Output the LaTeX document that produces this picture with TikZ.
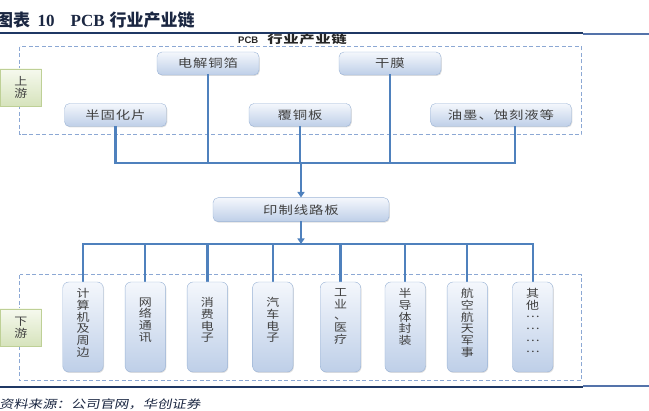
\documentclass[tikz,border=0pt]{standalone}
\usepackage{fontspec}
\setmainfont{Liberation Serif}
\newfontfamily\titleFont{Noto Sans CJK SC}
\newfontfamily\boxFont[FakeStretch=1.25, LetterSpace=8]{Noto Sans CJK SC}
\newfontfamily\stackFont[FakeStretch=1.18]{Noto Sans CJK SC}
\newfontfamily\headFont[FakeStretch=1.4, LetterSpace=6]{Noto Sans CJK SC}
\newfontfamily\headLatinFont{Liberation Sans}
\newfontfamily\sourceFont[FakeStretch=1.25, FakeSlant=0.2]{Noto Sans CJK SC}
\usepackage{tikz}
\usetikzlibrary{positioning, arrows.meta, shadows}
\definecolor{chainColor}{RGB}{79,129,189}
\definecolor{frameColor}{RGB}{140,168,212}
\definecolor{boxTop}{RGB}{244,247,252}
\definecolor{boxBottom}{RGB}{190,207,232}
\definecolor{boxBorder}{RGB}{155,180,214}
\definecolor{sideTop}{RGB}{246,249,238}
\definecolor{sideBottom}{RGB}{214,227,188}
\definecolor{sideBorder}{RGB}{190,208,150}
\definecolor{titleColor}{RGB}{27,39,66}
\definecolor{ruleDark}{RGB}{31,56,100}
\definecolor{ruleLight}{RGB}{84,115,170}
\definecolor{labelColor}{RGB}{64,64,64}
\tikzstyle{chart} = [x = 1pt, y = -1pt]
\tikzstyle{chainBox} = [draw = boxBorder, top color = boxTop, bottom color = boxBottom, rounded corners = 5pt, minimum height = 23pt, inner sep = 0pt, text = labelColor, font = \boxFont\fontsize{11.5}{13}\selectfont, drop shadow = {opacity = .25, shadow xshift = .8pt, shadow yshift = -1pt}]
\tikzstyle{marketBox} = [chainBox, minimum width = 40.5pt, minimum height = 90pt, rounded corners = 6pt]
\tikzstyle{stackText} = [align = center, inner sep = 0pt, text = labelColor, font = \stackFont\fontsize{11}{11.7}\selectfont]
\tikzstyle{sideBox} = [draw = sideBorder, top color = sideTop, bottom color = sideBottom, minimum width = 41.5pt, minimum height = 37pt, inner sep = 0pt, align = center, text = labelColor, font = \stackFont\fontsize{11}{12.5}\selectfont, drop shadow = {opacity = .2, shadow xshift = .8pt, shadow yshift = -1pt}]
\tikzstyle{frameLine} = [draw = frameColor, line width = 1pt, dash pattern = on 4pt off 2.5pt]
\tikzstyle{chainLine} = [draw = chainColor, line width = 2.2pt, line cap = rect]
\tikzstyle{chainArrow} = [chainLine, -{Triangle[length = 5.5pt, width = 7pt]}]
\newcommand{\supplyBox}[5]{\node [chainBox, minimum width = #4pt] (#1) at (#2, #3) {#5};}
\newcommand{\midDots}{\raisebox{3.5pt}{…}}

\begin{document}
\begin{tikzpicture}[chart]
  \useasboundingbox (0, 0) rectangle (649, 411);
  \node [anchor = west, inner sep = 0pt, text = titleColor, font = \fontsize{17}{19}\selectfont] (title) at (-4, 20) {{\titleFont\bfseries 图表}\hspace{7.5pt}{\bfseries 10}\hspace{16pt}{\bfseries PCB}\hspace{5pt}{\titleFont\bfseries 行业产业链}};
  \draw [ruleDark, line width = 1.2pt] (0, 33) -- (583, 33);
  \draw [ruleLight, line width = 2pt] (583, 34) -- (649, 34);

  \draw [frameLine] (19.5, 47) rectangle (581.5, 135);
  \draw [frameLine] (19.5, 275) rectangle (581.5, 381);
  \node [anchor = west, inner sep = 0pt, text = black!85] (heading) at (238, 39.3) {{\headLatinFont\bfseries\fontsize{9.5}{12}\selectfont PCB}\hspace{9pt}{\headFont\bfseries\fontsize{11}{13}\selectfont 行业产业链}};
  \coordinate (upBar) at (0, 163);
  \coordinate (downBar) at (0, 244);
  \coordinate (inkFoot) at (515, 163);

  \supplyBox{foil}{208}{63.5}{102}{电解铜箔}
  \supplyBox{film}{390}{63.5}{102}{干膜}
  \supplyBox{prepreg}{115.5}{115}{102}{半固化片}
  \supplyBox{ccl}{300}{115}{102}{覆铜板}
  \supplyBox{ink}{501}{115}{141}{油墨、蚀刻液等}
  \node [chainBox, minimum width = 176pt, minimum height = 24pt] (pcb) at (301, 209.7) {印制线路板};

  \foreach \name in {prepreg, foil, ccl, film} {
    \draw [chainLine] (\name.south) -- (\name.south |- upBar);
  }
  \draw [chainLine] (inkFoot |- ink.south) -- (inkFoot);
  \draw [chainLine] (prepreg.south |- upBar) -- (inkFoot);
  \draw [chainArrow] (pcb.north |- upBar) -- (pcb.north);
  \draw [chainArrow] (pcb.south) -- (pcb.south |- downBar);

  \foreach \name/\x/\gap/\words in {computer/83/6.5/{计\\算\\机\\及\\周\\边}, network/145.3/15.5/{网\\络\\通\\讯}, consumer/207.4/15.5/{消\\费\\电\\子}, vehicle/272.8/15.5/{汽\\车\\电\\子}, medical/340.5/6.5/{工\\业\\、\\医\\疗}, package/405.2/6.5/{半\\导\\体\\封\\装}, aero/467.3/6.5/{航\\空\\航\\天\\军\\事}, others/532.7/6.5/{其\\他\\\midDots\\\midDots\\\midDots\\\midDots}} {
    \draw [chainLine] (\x, 244) -- (\x, 282);
    \node [marketBox] (\name) at (\x, 327) {};
    \node [stackText, below = \gap pt of \name.north] (\name Text) {\words};
  }
  \draw [chainLine] (computer.north |- downBar) -- (others.north |- downBar);

  \node [sideBox] (upstream) at (20.8, 87.5) {上\\游};
  \node [sideBox] (downstream) at (20.8, 327.5) {下\\游};

  \draw [ruleDark, line width = 1.2pt] (0, 387) -- (583, 387);
  \draw [ruleLight, line width = 1.5pt] (583, 386) -- (649, 386);
  \node [anchor = west, inner sep = 0pt, text = titleColor] (source) at (-1, 404) {\sourceFont\fontsize{11.5}{14}\selectfont 资料来源：公司官网，华创证券};
\end{tikzpicture}
\end{document}
